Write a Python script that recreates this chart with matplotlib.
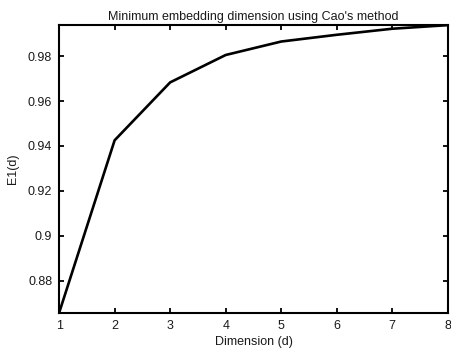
import matplotlib
matplotlib.use("Agg")
import matplotlib.pyplot as plt

# Cao's method E1(d) values
dims = [1, 2, 3, 4, 5, 6, 7, 8]
e1 = [0.8656, 0.9425, 0.9683, 0.9805, 0.9865, 0.9895, 0.9922, 0.9938]

yticks = [0.88, 0.90, 0.92, 0.94, 0.96, 0.98]
ytick_labels = ["0.88", "0.9", "0.92", "0.94", "0.96", "0.98"]

plt.rcParams['font.family'] = ['Liberation Sans', 'DejaVu Sans']
txt = '#1a1a1a'

fig = plt.figure(figsize=(4.51, 3.54), dpi=100)
ax = fig.add_axes([0.131, 0.116, 0.862, 0.813])

ax.plot(dims, e1, color='black', linewidth=1.9)

ax.set_xlim(min(dims), max(dims))
ax.set_ylim(min(e1), max(e1))
ax.set_xticks(dims)
ax.set_yticks(yticks)
ax.set_yticklabels(ytick_labels)

ax.tick_params(direction='in', length=3.5, width=1.3, labelsize=9,
               labelcolor=txt, top=True, right=True, pad=5)
for s in ax.spines.values():
    s.set_linewidth(1.5)

ax.set_title("Minimum embedding dimension using Cao's method", fontsize=9,
             color=txt, pad=4)
ax.set_xlabel("Dimension (d)", fontsize=9, color=txt, labelpad=3)
ax.set_ylabel("E1(d)", fontsize=9, color=txt, labelpad=6)

fig.savefig("out.png", dpi=100)
